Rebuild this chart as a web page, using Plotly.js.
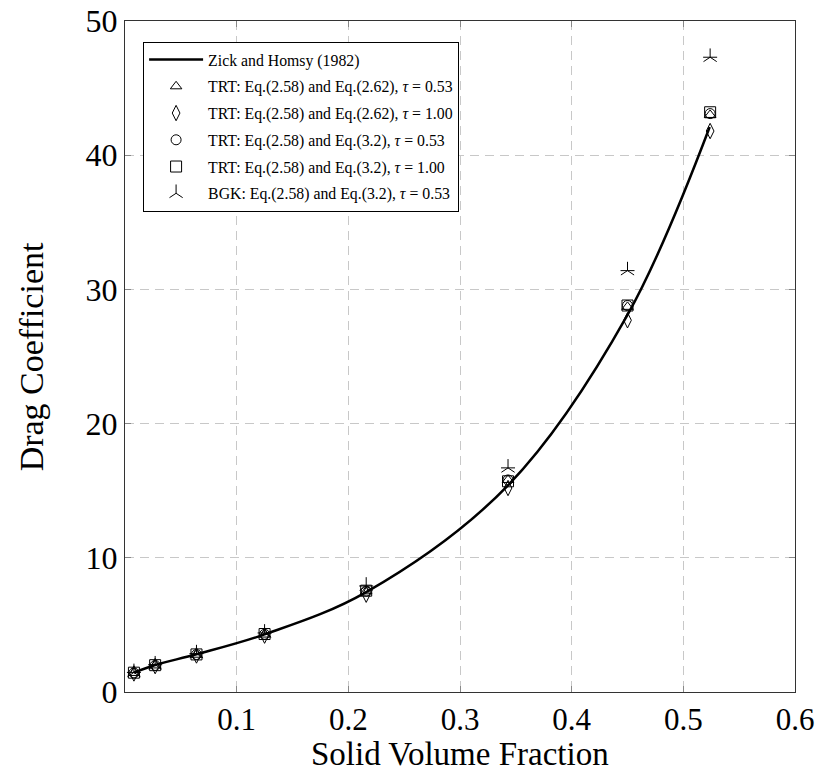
<!DOCTYPE html>
<html>
<head>
<meta charset="utf-8">
<script src="https://cdn.plot.ly/plotly-3.0.1.min.js"></script>
<style>html,body{margin:0;padding:0;background:#fff;}#chart{width:820px;height:774px;}</style>
</head>
<body>
<div id="chart"></div>
<script>
// Reference curve: Zick and Homsy (1982)
const zhFraction = [0.008, 0.027, 0.064, 0.125, 0.216, 0.343, 0.450, 0.5236];
const zhDrag     = [1.44, 2.008, 2.810, 4.292, 7.442, 15.4, 28.1, 42.1];

// Simulation solid volume fractions
const fraction = [0.008, 0.027, 0.064, 0.125, 0.216, 0.343, 0.450, 0.524];

// Drag coefficients
const trt262Tau053 = [1.42, 1.98, 2.78, 4.28, 7.50, 15.8, 28.7, 43.0];
const trt262Tau100 = [1.38, 1.93, 2.72, 4.20, 7.25, 15.2, 27.7, 41.8];
const trt32Tau053  = [1.42, 1.98, 2.79, 4.30, 7.52, 15.8, 28.8, 43.1];
const trt32Tau100  = [1.44, 2.00, 2.80, 4.32, 7.55, 15.7, 28.8, 43.2];
const bgk32Tau053  = [1.46, 2.03, 2.86, 4.40, 7.90, 16.7, 31.4, 47.3];

const names = [
  'Zick and Homsy (1982)',
  'TRT: Eq.(2.58) and Eq.(2.62), <i>τ</i> = 0.53',
  'TRT: Eq.(2.58) and Eq.(2.62), <i>τ</i> = 1.00',
  'TRT: Eq.(2.58) and Eq.(3.2), <i>τ</i> = 0.53',
  'TRT: Eq.(2.58) and Eq.(3.2), <i>τ</i> = 1.00',
  'BGK: Eq.(2.58) and Eq.(3.2), <i>τ</i> = 0.53'
];
const xTitle = 'Solid Volume Fraction';
const yTitle = 'Drag Coefficient';

const mk = (sym, size) => ({symbol: sym, size: size, color: '#000', line: {color: '#000', width: 1}});

const traces = [
  {x: zhFraction, y: zhDrag, mode: 'lines', name: names[0], legendgroup: 'g0',
   line: {color: '#000', width: 2.5, shape: 'spline', smoothing: 1.0}},
  {x: fraction, y: trt262Tau053, mode: 'markers', name: names[1], legendgroup: 'g1', marker: mk('triangle-up-open', 10)},
  {x: fraction, y: trt262Tau100, mode: 'markers', name: names[2], legendgroup: 'g2', marker: mk('diamond-tall-open', 11)},
  {x: fraction, y: trt32Tau053, mode: 'markers', name: names[3], legendgroup: 'g3', marker: mk('circle-open', 10)},
  {x: fraction, y: trt32Tau100, mode: 'markers', name: names[4], legendgroup: 'g4', marker: mk('square-open', 11)},
  {x: fraction, y: bgk32Tau053, mode: 'markers', name: names[5], legendgroup: 'g5', marker: mk('y-up-open', 11)},
  {x: fraction, y: bgk32Tau053, mode: 'markers', name: names[5], legendgroup: 'g5', showlegend: false,
   marker: {symbol: 'line-ew-open', size: 10, color: '#000', line: {color: '#000', width: 1}}}
];

const font = "'Liberation Serif', 'Times New Roman', Times, serif";

const layout = {
  width: 820, height: 774,
  margin: {l: 125, r: 25, t: 21, b: 82},
  paper_bgcolor: '#fff', plot_bgcolor: '#fff',
  font: {family: font, color: '#000'},
  showlegend: true,
  legend: {
    x: 0.027, y: 0.969, xanchor: 'left', yanchor: 'top',
    bgcolor: '#fff', bordercolor: '#000', borderwidth: 1,
    font: {family: font, size: 15.8, color: '#000'},
    traceorder: 'grouped', tracegroupgap: 3.2, itemwidth: 54
  },
  xaxis: {
    range: [0, 0.6], tickvals: [0.1, 0.2, 0.3, 0.4, 0.5, 0.6], ticktext: ['0.1','0.2','0.3','0.4','0.5','0.6'],
    showgrid: true, gridcolor: '#c8c8c8', griddash: '9px,6px', gridwidth: 1,
    showline: true, linecolor: '#333', linewidth: 1.2, mirror: 'allticks',
    ticks: 'inside', ticklen: 6, tickcolor: '#888', zeroline: false,
    tickfont: {family: font, size: 31, color: '#000'}
  },
  yaxis: {
    range: [0, 50], tickvals: [0, 10, 20, 30, 40, 50],
    showgrid: true, gridcolor: '#c8c8c8', griddash: '9px,6px', gridwidth: 1,
    showline: true, linecolor: '#333', linewidth: 1.2, mirror: 'allticks',
    ticks: 'inside', ticklen: 6, tickcolor: '#888', zeroline: false,
    tickfont: {family: font, size: 32, color: '#000'}
  },
  annotations: [
    {text: xTitle, xref: 'paper', yref: 'paper', x: 0.5, y: -0.093, xanchor: 'center', yanchor: 'middle',
     showarrow: false, font: {family: font, size: 33, color: '#000'}},
    {text: yTitle, xref: 'paper', yref: 'paper', x: -0.139, y: 0.5, xanchor: 'center', yanchor: 'middle',
     textangle: -90, showarrow: false, font: {family: font, size: 34, color: '#000'}}
  ]
};

Plotly.newPlot('chart', traces, layout, {staticPlot: true, displayModeBar: false});
</script>
</body>
</html>
